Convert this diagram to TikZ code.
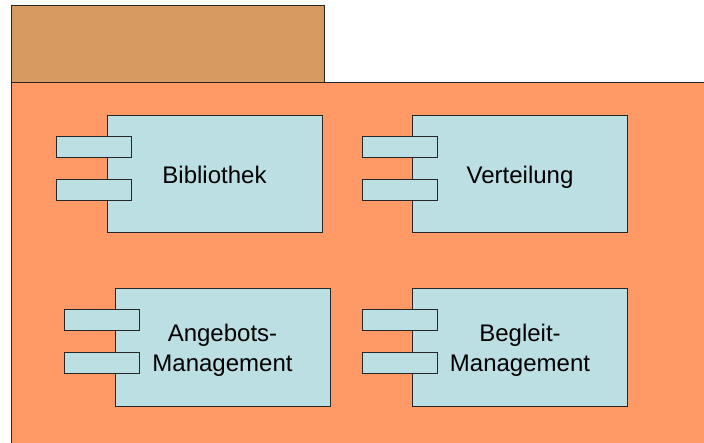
\documentclass[tikz,border=0pt]{standalone}
\usepackage{fontspec}
\setmainfont{Liberation Sans}
\usetikzlibrary{positioning}
\definecolor{tabbrown}{RGB}{215,155,98}
\definecolor{pkgorange}{RGB}{255,153,102}
\definecolor{compblue}{RGB}{187,223,226}
\tikzset{
  comp/.style={draw=black!85, fill=compblue, line width=1pt, minimum width=215pt, minimum height=117pt, inner sep=0pt, align=center, text depth=0pt, font=\fontsize{24}{30}\selectfont},
  port/.style={draw=black!85, fill=compblue, line width=1pt, minimum width=75pt, minimum height=21pt, inner sep=0pt}
}
\begin{document}
\begin{tikzpicture}[x=1pt,y=-1pt]
\useasboundingbox (0,0) rectangle (704,443);
\draw[black!85, line width=1pt, fill=tabbrown](11,6) rectangle (324,83);
\fill[pkgorange](11,83) rectangle (704,443);
\draw[black!85, line width=1pt](704,83)--(11,83)--(11,443);
%------------------
\coordinate (Bib) at (214.5,174.5);
\coordinate (Ver) at (520,174.5);
\coordinate (Ang) at (222.5,347.5);
\coordinate (Beg) at (520,347.5);
   \newcommand{\compList}{Bib/Bibliothek, Ver/Verteilung, Ang/{Angebots-\\Management}, Beg/{Begleit-\\Management}}
\foreach \nm/\txt in \compList{
   	\node[comp] (\nm box) at (\nm) {\txt};
   	\node[port] (\nm p1) at ([shift={(-12.5,31.5)}] \nm box.north west) {};
   	\node[port] (\nm p2) at ([shift={(-12.5,74.5)}] \nm box.north west) {};
   }
\end{tikzpicture}
\end{document}
